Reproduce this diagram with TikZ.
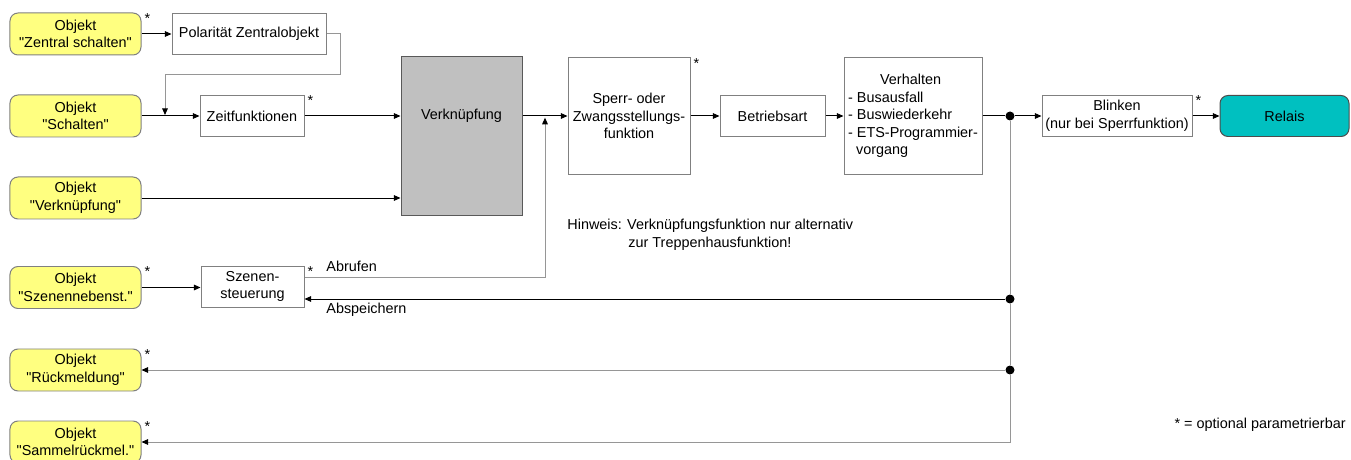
\documentclass[tikz,border=0pt]{standalone}
\usepackage{fontspec}
\setmainfont{Liberation Sans}
\newfontfamily\plainfont{Liberation Sans}
\usetikzlibrary{arrows.meta,positioning,calc}
\definecolor{objyellow}{RGB}{255,255,128}
\definecolor{relaisteal}{RGB}{0,192,192}
\definecolor{boxgray}{RGB}{192,192,192}
\definecolor{framegray}{RGB}{128,128,128}
\definecolor{wiregray}{RGB}{150,150,150}
\tikzset{
every picture/.style={
line width=0.85pt
}}
\tikzset{
  obj/.style={draw=framegray, fill=objyellow, rounded corners=0.24cm, align=center,
    minimum width=3.93cm, minimum height=1.26cm, inner sep=0pt},
  func/.style={draw=framegray, fill=white, align=center, minimum height=1.23cm, inner sep=0pt},
  opt/.style={inner sep=0pt},
  dot/.style={circle, fill=black, inner sep=0pt, minimum size=0.27cm},
  wire/.style={draw=wiregray},
  >={Triangle[length=0.2cm,width=0.17cm,color=black]}
}

\begin{document}
\begin{tikzpicture}[x=0.03cm, y=-0.03cm, font=\plainfont\fontsize{12.3}{15}\selectfont]
\useasboundingbox (0,0) rectangle (1351,460);

% objects on the left
\node [obj] at (75.5,34) (oZentral) {Objekt\\"Zentral schalten"};
\node [obj] at (75.5,116) (oSchalten) {Objekt\\"Schalten"};
\node [obj] at (75.5,198) (oVerkn) {Objekt\\"Verkn\"upfung"};
\node [obj] at (75.5,287.5) (oSzenen) {Objekt\\"Szenennebenst."};
\node [obj] at (75.5,370) (oRueck) {Objekt\\"R\"uckmeldung"};
\node [obj] at (75.5,442) (oSammel) {Objekt\\"Sammelr\"uckmel."};

% function blocks
\node [func, minimum width=4.62cm] at (249,34) (pol) {Polarit\"at Zentralobjekt};
\node [func, minimum width=3.12cm] at (252,116) (zeit) {Zeitfunktionen};
\node [func, fill=boxgray, draw=black!65, minimum width=3.63cm, minimum height=4.74cm] at (461.5,136) (verkn) {};
\node at (verkn |- zeit) (verknTxt) {Verkn\"upfung};
\node [func, minimum width=3.66cm, minimum height=3.48cm] at (629,116) (sperr) {Sperr- oder\\Zwangsstellungs-\\funktion};
\node [func, minimum width=3.15cm] at (772.5,116) (betr) {Betriebsart};
\node [func, align=left, minimum width=4.14cm, minimum height=3.51cm] at (913,116) (verh)
  {\hspace*{0.96cm}Verhalten\\- Busausfall\\- Buswiederkehr\\- ETS-Programmier-\\\hspace*{0.24cm}vorgang};
\node [func, minimum width=4.5cm] at (1117,116) (blink) {Blinken\\(nur bei Sperrfunktion)};
\node [func, fill=relaisteal, draw=black!70, rounded corners=0.24cm, minimum width=3.87cm] at (1284.5,116) (relais) {Relais};
\node [func, minimum width=3.09cm] at (252.5,286.5) (szenen) {Szenen-\\steuerung};

% junctions
\node [dot] at (1010,116) (d1) {};
\node [dot] at (1010,299) (d2) {};
\node [dot] at (1010,370) (d3) {};
\coordinate (jZ) at (165,116);
\coordinate (jA) at (545,116);

% optional marks
\foreach \x in {oZentral,zeit,sperr,blink,oSzenen,szenen,oRueck,oSammel}
  \node [opt] at ([shift={(6,6)}]\x.north east) (st\x) {*};

% texts
\node [anchor=west] at (322,266) (abrufen) {Abrufen};
\node [anchor=west] at (322,310) (abspeichern) {Abspeichern};
\node [anchor=west, align=left] at (563,235) (hinweis)
  {Hinweis: Verkn\"upfungsfunktion nur alternativ\\\hspace*{1.83cm}zur Treppenhausfunktion!};
\node [anchor=east] at (1350,425) (legende) {* = optional parametrierbar};

% connections
\foreach \a/\b in {oZentral/pol,oSchalten/zeit,zeit/verkn,oVerkn/verkn,sperr/betr,betr/verh,blink/relais,oSzenen/szenen}
  \draw [->] (\a.east) -- (\a.east -| \b.west);
\draw [->] (verkn.east |- sperr) -- (sperr.west);
\draw (verh.east) -- (d1);
\draw [->] (d1) -- (blink);
\draw [wire, ->] (pol.east) -| (340,75) -| ([yshift=0.03cm]jZ);
\draw [wire, ->] ([yshift=0.285cm]szenen.east) -| ([yshift=-0.05cm]jA);
\draw [wire] (d1) -- (d2);
\draw [wire] (d2) -- (d3);
\draw [wire, ->] (d3) |- (oSammel.east);
\draw [->] (d2) -- (d2 -| szenen.east);
\draw [wire, ->] (d3) -- (d3 -| oRueck.east);

\end{tikzpicture}
\end{document}
